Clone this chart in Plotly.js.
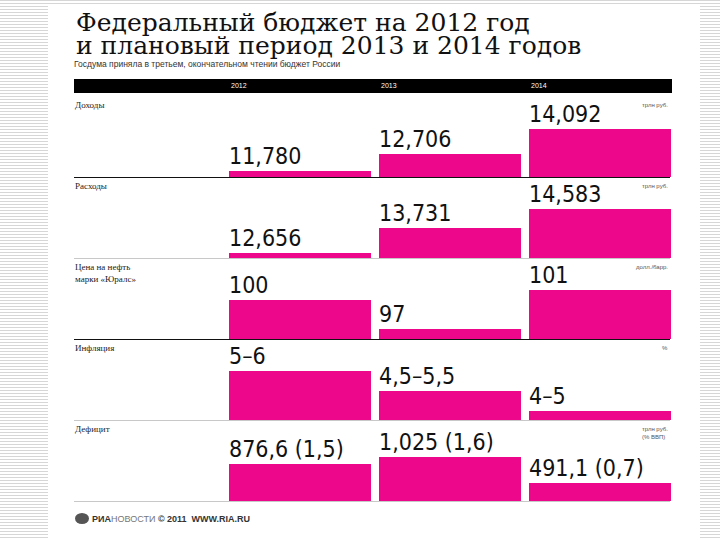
<!DOCTYPE html>
<html>
<head>
<meta charset="utf-8">
<script src="https://cdn.plot.ly/plotly-3.0.1.min.js"></script>
<style>
  html, body { margin: 0; padding: 0; }
  body {
    width: 720px; height: 540px; overflow: hidden; position: relative;
    background: repeating-linear-gradient(to bottom, #d6d6d6 0px, #d6d6d6 1px, #ffffff 1px, #ffffff 3px);
  }
  #sheet { position: absolute; left: 48px; top: 5px; width: 652px; height: 535px; background: #ffffff; }
  #chart { position: absolute; left: 0; top: 0; width: 720px; height: 540px; }
</style>
</head>
<body>
<div id="sheet"></div>
<div id="chart"></div>
<script>
// ---- data ----
const years = ['2012', '2013', '2014'];
const rowLabels = ['Доходы', 'Расходы', 'Цена на нефть<br>марки «Юралс»', 'Инфляция', 'Дефицит'];
const units = ['трлн руб.', 'трлн руб.', 'долл./барр.', '%', 'трлн руб.<br>(% ВВП)'];
const revenue = [11780, 12706, 14092];
const revenueLabels = ['11,780', '12,706', '14,092'];
const expenditure = [12656, 13731, 14583];
const expenditureLabels = ['12,656', '13,731', '14,583'];
const oilPrice = [100, 97, 101];
const oilPriceLabels = ['100', '97', '101'];
const inflation = [5.5, 5.0, 4.5];            // mid-points of the forecast ranges
const inflationLabels = ['5–6', '4,5–5,5', '4–5'];
const deficit = [876.6, 1025, 491.1];
const deficitGdp = [1.5, 1.6, 0.7];
const deficitLabels = ['876,6 (1,5)', '1,025 (1,6)', '491,1 (0,7)'];

const title1 = 'Федеральный бюджет на 2012 год';
const title2 = 'и плановый период 2013 и 2014 годов';
const subtitle = 'Госдума приняла в третьем, окончательном чтении бюджет России';
const footer = '<b>РИА</b><span style="color:#777">НОВОСТИ</span> <b>© 2011  WWW.RIA.RU</b>';

// ---- geometry / style ----
const W = 720, H = 540;
const px = v => v / W;
const py = v => 1 - v / H;
const pink = '#EC078B';
const barW = 0.953;
const numFont = { family: 'Liberation Sans Narrow, DejaVu Sans Condensed, sans-serif', size: 23, color: '#111111' };

const rows = [
  { vals: revenue, labels: revenueLabels, base: 177, range: [11458, 15551] },
  { vals: expenditure, labels: expenditureLabels, base: 258, range: [12437, 15722] },
  { vals: oilPrice, labels: oilPriceLabels, base: 339, range: [95.97, 103.7] },
  { vals: inflation, labels: inflationLabels, base: 420, range: [4.275, 6.15] },
  { vals: deficit, labels: deficitLabels, base: 501, range: [113, 1668] }
];
const rowH = 75;
const xIdx = years.map((_, i) => i);

const traces = [];
const annotations = [];
const shapes = [];
const layout = {
  width: W, height: H,
  margin: { l: 0, r: 0, t: 0, b: 0 },
  paper_bgcolor: 'rgba(0,0,0,0)',
  plot_bgcolor: 'rgba(0,0,0,0)',
  showlegend: false,
  bargap: 0,
  xaxis: { domain: [px(225), px(675)], range: [-0.5, 2.5], visible: false, fixedrange: true }
};

rows.forEach((r, k) => {
  const yName = k === 0 ? 'y' : 'y' + (k + 1);
  const yKey = k === 0 ? 'yaxis' : 'yaxis' + (k + 1);
  layout[yKey] = { domain: [py(r.base), py(r.base - rowH)], range: r.range, visible: false, anchor: 'x', fixedrange: true };
  traces.push({
    type: 'bar', x: xIdx, y: r.vals, yaxis: yName, xaxis: 'x',
    width: barW, marker: { color: pink, line: { width: 0 } },
    hoverinfo: 'skip'
  });
  r.labels.forEach((t, i) => {
    annotations.push({
      xref: 'x', yref: yName, x: i - barW / 2, y: r.vals[i],
      xanchor: 'left', yanchor: 'bottom', text: t, showarrow: false,
      font: numFont, xshift: -2, yshift: 0
    });
  });
  // row baseline
  shapes.push({
    type: 'line', xref: 'paper', yref: 'paper', layer: 'below',
    x0: px(74), x1: px(670), y0: py(r.base + 0.5), y1: py(r.base + 0.5),
    line: { color: (k === 0 || k === 2) ? '#111111' : '#c8c8c8', width: 1 }
  });
  // row label
  annotations.push({
    xref: 'paper', yref: 'paper', x: px(73), y: py(r.base - rowH - 4),
    xanchor: 'left', yanchor: 'top', align: 'left', showarrow: false,
    text: rowLabels[k], font: { family: 'Liberation Serif, DejaVu Serif, serif', size: 9, color: '#222' }
  });
  // unit
  annotations.push({
    xref: 'paper', yref: 'paper', x: px(670), y: py(r.base - rowH - 2),
    xanchor: 'right', yanchor: 'top', align: 'left', showarrow: false,
    text: units[k], font: { family: 'Liberation Sans, sans-serif', size: 6, color: '#555' }
  });
});

// header bar with years
shapes.push({ type: 'rect', xref: 'paper', yref: 'paper', x0: px(74), x1: px(672), y0: py(93), y1: py(79), fillcolor: '#000', line: { width: 0 }, layer: 'below' });
years.forEach((yv, i) => {
  annotations.push({
    xref: 'x', yref: 'paper', x: i - barW / 2, y: py(86), xanchor: 'left', yanchor: 'middle',
    text: yv, showarrow: false, xshift: 0,
    font: { family: 'Liberation Sans, sans-serif', size: 7, color: '#ffffff' }
  });
});

// titles
annotations.push({ xref: 'paper', yref: 'paper', x: px(74), y: py(22), xanchor: 'left', yanchor: 'middle', showarrow: false,
  text: title1, font: { family: 'DejaVu Serif, serif', size: 25, color: '#111' } });
annotations.push({ xref: 'paper', yref: 'paper', x: px(74), y: py(46), xanchor: 'left', yanchor: 'middle', showarrow: false,
  text: title2, font: { family: 'DejaVu Serif, serif', size: 25, color: '#111' } });
annotations.push({ xref: 'paper', yref: 'paper', x: px(72), y: py(64), xanchor: 'left', yanchor: 'middle', showarrow: false,
  text: subtitle, font: { family: 'Liberation Sans, sans-serif', size: 8.5, color: '#333' } });

// footer
shapes.push({ type: 'circle', xref: 'paper', yref: 'paper', x0: px(75), x1: px(89), y0: py(524), y1: py(513), fillcolor: '#555', line: { width: 0 } });
annotations.push({ xref: 'paper', yref: 'paper', x: px(90), y: py(519), xanchor: 'left', yanchor: 'middle', showarrow: false,
  text: footer, font: { family: 'Liberation Sans, sans-serif', size: 9, color: '#333' } });

layout.shapes = shapes;
layout.annotations = annotations;

Plotly.newPlot('chart', traces, layout, { staticPlot: true, displayModeBar: false });
</script>
</body>
</html>
